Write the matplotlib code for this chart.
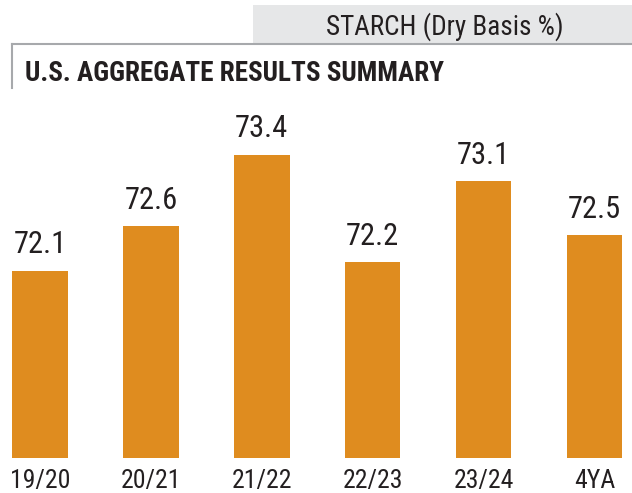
import matplotlib
matplotlib.use('Agg')
import matplotlib.pyplot as plt
from matplotlib.patches import Rectangle
from matplotlib.lines import Line2D

seasons = ['19/20', '20/21', '21/22', '22/23', '23/24', '4YA']
starch = [72.1, 72.6, 73.4, 72.2, 73.1, 72.5]

header_text = 'STARCH (Dry Basis %)'
title_text = 'U.S. AGGREGATE RESULTS SUMMARY'

# narrow sans similar to Arial Narrow
plt.rcParams['font.family'] = ['Roboto Condensed', 'Liberation Sans', 'DejaVu Sans']

W, H = 632, 493
bar_color = '#DF8C1F'
text_color = '#231F20'

fig = plt.figure(figsize=(W / 100, H / 100), dpi=100)
fig.patch.set_facecolor('white')


def fx(px):
    return px / W


def fy(py):
    return 1 - py / H


# grey header box and frame lines
fig.patches.append(Rectangle((fx(253), fy(43)), fx(632) - fx(253), fy(5) - fy(43),
                             transform=fig.transFigure, facecolor='#E6E7E8',
                             edgecolor='none', zorder=0))
fig.lines.append(Line2D([fx(12), 1], [fy(44), fy(44)], transform=fig.transFigure,
                        color='#A7A9AC', lw=1.5))
fig.lines.append(Line2D([fx(12), fx(12)], [fy(44), fy(88)], transform=fig.transFigure,
                        color='#A7A9AC', lw=1.5))
fig.text(fx(445), fy(35), header_text, ha='center', va='baseline',
         fontsize=19.5, color=text_color)
fig.text(fx(25), fy(81), title_text, ha='left', va='baseline',
         fontsize=19.5, fontweight='bold', color=text_color)

# bars
ax = fig.add_axes([0, fy(458), 1, fy(101) - fy(458)])
x = list(range(len(seasons)))
bars = ax.bar(x, starch, width=0.5, color=bar_color, edgecolor='none')
ax.set_ylim(70, 74.0)
ax.set_xlim(-40 / 110.9, (632 - 40) / 110.9)

for bar, val in zip(bars, starch):
    ax.annotate(f'{val:.1f}', (bar.get_x() + bar.get_width() / 2, bar.get_height()),
                xytext=(0, 8), textcoords='offset points', ha='center', va='bottom',
                fontsize=22, color=text_color)

ax.set_xticks(x)
ax.set_xticklabels(seasons, fontsize=18.5, color=text_color)
ax.tick_params(axis='x', length=0, pad=8)
ax.set_yticks([])
for s in ax.spines.values():
    s.set_visible(False)

fig.savefig('out.png', dpi=100, facecolor='white')
